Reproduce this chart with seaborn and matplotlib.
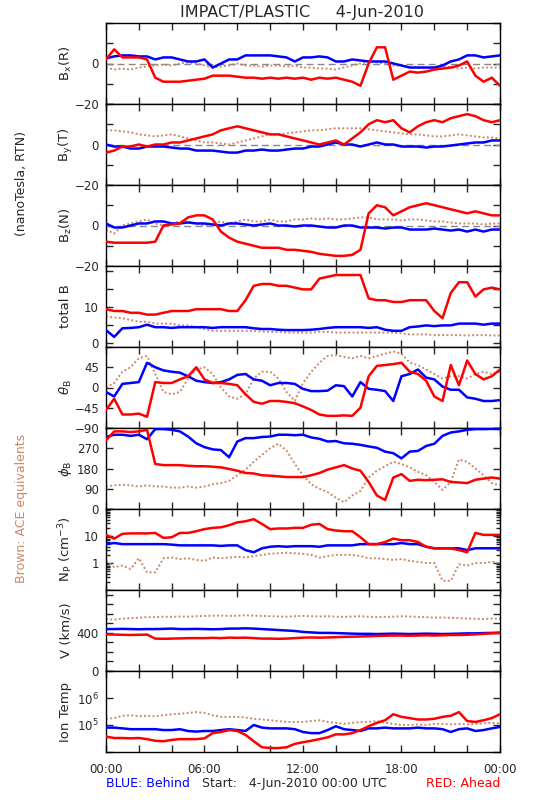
import numpy as np
import matplotlib
matplotlib.use("Agg")
import matplotlib.pyplot as plt
import seaborn as sns

# time grid (hours after 4-Jun-2010 00:00 UTC), one reading every 30 min
hours = np.arange(0, 24.5, 0.5)

BLUE = "#0000FF"
RED = "#FF0000"
BROWN = "#CC8866"

# B_x (R), nT
bx_blue = [2.5, 3.5, 4, 4, 3.5, 3.5, 2, 3, 3, 2, 1, 1,
           2, -2, 0, 2, 2, 4, 4, 4, 4, 3.5, 3, 1,
           3, 3, 3.5, 3, 1, 1, 2, 1.5, 1, 1, 1, 0,
           -1, -2, -2, -2, -2, -1, 1, 2, 4, 4, 3, 3.5, 4]
bx_red = [2, 7, 3, 3, 3, 2, -7, -9, -9, -9, -8.5, -8,
          -7.5, -6, -6, -6, -6.5, -7, -7, -7.5, -7, -7.5, -7, -7.5,
          -7, -8, -7, -7.5, -7, -8, -9, -11, 0, 8, 8, -8,
          -6, -4, -4.5, -4, -3, -2.5, -2, -1, 1, -6, -9, -7, -11]
bx_brown = [-2, -3, -2.5, -3, -2, -1.5, -1, -0.5, -1, 0, 0.5, 0,
            -1, -2, -1.5, -1, 0, -1, -1, -1.5, -1, -1, -1.5, -1,
            -2, -2, -2.5, -2.5, -3, -2, -1, 0, 1, 0.5, 0, -1,
            -1, -1.5, -2, -2, -2, -1.5, -2, -2.5, -2, -2.5, -2, -2, -2]

# B_y (T), nT
by_blue = [0, -1, -1, -2, -2, -1, -1, -1, -1.5, -2, -2, -3,
           -3, -3, -3.5, -4, -4, -3, -3, -2.5, -3, -3, -2.5, -2,
           -2, -1, -1, 0, 1, 0, 0, -1, 0, 1, 0, 0,
           -1, -1, -1, -1.5, -1, -1, -0.5, 0, 0.5, 1, 1, 2, 2]
by_red = [-4, -3, -1, -1, 0, -1, 0, 0, 1, 1, 2, 3,
          4, 5, 7, 8, 9, 8, 7, 6, 5, 5, 4, 3,
          2, 1, 0, 1, 2, 0, 3, 6, 10, 12, 11, 12,
          8, 6, 9, 11, 12, 11, 13, 14, 15, 14, 12, 11, 12]
by_brown = [7, 7, 6.5, 6, 5, 4.5, 4, 4.5, 5, 4, 3, 2,
            1, 1, 0.5, 0, 1, 2, 3, 4, 5, 5, 5.5, 6,
            6.5, 7, 7, 7.5, 8, 8, 8, 8, 7.5, 7, 6.5, 6,
            5.5, 5, 5, 4.5, 4, 4, 4.5, 5, 4.5, 4, 3.5, 3.5, 3]

# B_z (N), nT
bz_blue = [1, -1, -1, 0, 1, 1, 2, 2, 1, 1, 1.5, 1,
           1, 0.5, 0, 1, 1, 0.5, 0, 0.5, 1, 0, 0, -0.5,
           0, 0, -0.5, -1, -1, 0, 0, -1, -1, -1, -1.5, -1,
           -1, -2, -2, -2, -1.5, -2, -2.5, -2, -3, -2, -3, -2, -2]
bz_red = [-8, -8.5, -8.5, -8.5, -8.5, -8.5, -8, 0, 0.5, 1, 4, 5,
          5, 3, -3, -6, -8, -9, -10, -11, -11, -11, -12, -12,
          -12.5, -13, -14, -14.5, -15, -15, -14.5, -12, 6, 10, 9, 5,
          7, 9, 10, 11, 10, 9, 8, 7, 6, 7, 6, 5, 5]
bz_brown = [-2, -4, 0, 1, 2, 3, 1, 0, 1, 2, 2, 1,
            0, 1, 2, 1, 2, 3, 2, 2, 3, 2, 2, 3,
            3, 3.5, 3, 3.5, 3, 3, 3.5, 4, 4, 3, 3, 3,
            2.5, 3, 3, 2.5, 2, 2, 1.5, 1, 1, 1, 0.5, 1, 1]

# total B, nT
bt_blue = [3.7, 1.8, 4.2, 4.3, 4.5, 5.2, 4.5, 4.5, 4.3, 4.5, 4.5, 4.5,
           4.5, 4.3, 4.5, 4.5, 4.5, 4.5, 4.2, 4, 4, 3.8, 3.7, 3.7,
           3.7, 3.8, 4, 4.3, 4.5, 4.5, 4.5, 4.5, 4.3, 4.5, 3.8, 3.5,
           3.5, 4.5, 4.7, 5, 4.8, 5, 5, 5.5, 5.5, 5.5, 5.2, 5.5, 5.5]
bt_red = [9.5, 9, 9, 8.5, 8.5, 8, 8, 8.5, 9, 9, 9, 9.5,
          9.5, 9.5, 9.5, 9, 9, 12, 16, 16.5, 16.5, 16, 16, 15.5,
          15, 15, 18, 18.5, 19, 19, 19, 19, 12.5, 12, 12, 11.5,
          11.5, 12, 12, 12, 9, 7, 14, 17, 17, 13, 15, 15.5, 15]
bt_brown = [7.5, 7.2, 7, 6.5, 6, 6, 5.5, 5.5, 5.5, 5, 5, 4.5,
            4, 3.5, 3.5, 3.5, 3.5, 3.5, 3.5, 3.3, 3.2, 3.2, 3, 3,
            3, 3, 3.2, 3.2, 3, 3, 3, 3, 3, 3, 3, 3,
            2.8, 2.5, 2.5, 2.5, 2.3, 2.3, 2.3, 2.3, 2.2, 2.3, 2.3, 2.2, 2.2]

# theta_B, deg
th_blue = [-10, -20, 8, 10, 12, 55, 45, 38, 35, 33, 25, 15,
           12, 10, 12, 18, 28, 30, 18, 15, 5, 10, 10, 8,
           -3, -8, -8, -7, 5, 3, -20, 12, -3, -5, -8, -30,
           25, 30, 40, 22, 18, 2, -5, -5, -22, -25, -30, -30, -28]
th_red = [-50, -25, -60, -60, -58, -65, 12, 10, 10, 18, 25, 45,
          18, 10, 10, 8, 5, -15, -32, -36, -30, -30, -32, -35,
          -42, -50, -60, -63, -63, -62, -63, -45, 25, 48, 50, 52,
          55, 35, 30, 15, -20, -30, 50, 5, 60, 30, 18, 25, 40]
th_brown = [0, 10, 35, 45, 65, 70, 30, -10, -15, -10, 20, 40,
            45, 30, 0, -20, -25, -15, 20, 35, 35, 20, -10, -30,
            10, 35, 55, 70, 72, 68, 65, 70, 65, 70, 75, 80,
            75, 55, 50, 40, 30, 20, 25, 25, 20, 30, 35, 30, 35]

# phi_B, deg
ph_blue = [320, 330, 330, 325, 330, 310, 355, 355, 352, 345, 322, 292,
           275, 265, 262, 230, 300, 315, 315, 320, 322, 330, 330, 328,
           330, 318, 312, 300, 302, 292, 290, 285, 278, 272, 255, 248,
           225, 255, 258, 280, 290, 325, 340, 345, 352, 355, 355, 356, 355]
ph_red = [305, 345, 345, 342, 345, 352, 200, 195, 195, 195, 192, 190,
          190, 188, 185, 178, 170, 160, 158, 150, 148, 145, 142, 142,
          142, 150, 160, 175, 185, 195, 180, 170, 120, 60, 40, 140,
          155, 125, 130, 128, 130, 132, 120, 118, 115, 130, 135, 140, 135]
ph_brown = [100, 105, 108, 105, 100, 105, 100, 100, 95, 95, 100, 95,
            100, 110, 115, 125, 150, 175, 210, 240, 270, 290, 260, 200,
            150, 110, 90, 75, 50, 30, 60, 80, 140, 170, 190, 210,
            200, 185, 165, 150, 120, 85, 120, 220, 210, 180, 150, 115, 105]

# N_p, cm^-3
np_blue = [5, 5.5, 5, 5, 5, 5, 5, 5, 4.8, 4.5, 4.5, 4.5,
           4.5, 4.5, 4.3, 4.5, 4.5, 3, 2.5, 3.5, 4, 4.2, 4, 4.2,
           4.2, 4.2, 4, 4.5, 4.5, 4.5, 4.5, 5, 5, 5, 5, 5,
           5.5, 5, 5, 4, 3.5, 3.5, 3.5, 3.5, 3, 3.5, 3.5, 3.5, 3.5]
np_red = [11, 8, 12, 12.5, 12.5, 12.5, 13, 8.5, 9, 13, 13, 15,
          18, 20, 21, 25, 32, 35, 42, 28, 18, 19, 19, 20,
          20, 26, 28, 18, 16, 15, 15, 9, 5, 5, 6, 8,
          7, 7, 6, 4, 3.5, 3.5, 3.5, 3, 2.5, 13, 11, 11, 11]
np_brown = [1.2, 0.7, 0.8, 0.6, 1.5, 0.45, 0.45, 1.5, 1.6, 1.4, 1.5, 1.3,
            1.2, 1.6, 1.5, 1.6, 1.7, 1.6, 1.8, 2.0, 2.2, 2.3, 2.4, 2.3,
            2.2, 2.0, 1.6, 1.8, 2.0, 2.0, 2.0, 1.8, 1.5, 1.5, 1.4, 1.3,
            1.4, 1.2, 1.1, 1.0, 1.0, 0.22, 0.22, 0.9, 0.8, 1.0, 1.0, 1.1, 1.0]

# V, km/s
v_blue = [440, 440, 442, 440, 438, 440, 440, 442, 445, 440, 440, 442,
          440, 438, 440, 445, 445, 448, 445, 440, 435, 430, 425, 420,
          410, 405, 400, 400, 398, 395, 392, 390, 390, 388, 390, 392,
          390, 388, 390, 392, 390, 388, 390, 392, 395, 395, 398, 400, 402]
v_red = [385, 382, 380, 378, 380, 382, 340, 338, 340, 342, 345, 345,
         345, 348, 345, 350, 348, 350, 345, 340, 340, 338, 340, 345,
         350, 352, 350, 352, 355, 358, 360, 362, 365, 368, 370, 372,
         372, 370, 372, 375, 372, 375, 378, 378, 380, 385, 390, 395, 400]
v_brown = [545, 540, 548, 555, 560, 565, 565, 570, 568, 572, 570, 575,
           578, 580, 582, 578, 580, 585, 580, 578, 575, 572, 570, 575,
           578, 575, 572, 575, 570, 568, 572, 575, 570, 565, 568, 570,
           575, 572, 568, 565, 560, 562, 558, 555, 550, 548, 545, 550, 548]

# ion temperature, K
ti_blue = [8e4, 8e4, 7.5e4, 7e4, 7e4, 7e4, 7e4, 6.5e4, 6.5e4, 7e4, 6e4, 5.7e4,
           6e4, 6e4, 6.5e4, 7e4, 6.5e4, 6e4, 1e5, 8e4, 7.5e4, 7.5e4, 7.5e4, 7e4,
           5.5e4, 5e4, 5e4, 6.5e4, 9e4, 7e4, 6.5e4, 6e4, 7.5e4, 7.5e4, 8e4, 7.5e4,
           7.5e4, 7.5e4, 8e4, 7.5e4, 7.5e4, 7e4, 5.5e4, 7e4, 7.5e4, 6e4, 6.5e4, 7.5e4, 8.5e4]
ti_red = [3.7e4, 3.3e4, 3.3e4, 3.2e4, 3.3e4, 3e4, 2.6e4, 2.5e4, 2.8e4, 3e4, 3e4, 3e4,
          3.2e4, 5e4, 5.5e4, 6.5e4, 6e4, 4.3e4, 2.5e4, 1.5e4, 1.4e4, 1.4e4, 1.5e4, 2e4,
          2.3e4, 2.6e4, 3e4, 3.5e4, 4.5e4, 4.5e4, 5e4, 6.5e4, 9e4, 1.2e5, 1.5e5, 2.5e5,
          2e5, 1.8e5, 1.6e5, 1.6e5, 1.7e5, 2e5, 2.2e5, 3e5, 1.4e5, 1.3e5, 1.5e5, 1.8e5, 2.5e5]
ti_brown = [1.7e5, 1.8e5, 2.2e5, 2.3e5, 2.1e5, 2.2e5, 2.1e5, 2.3e5, 2.5e5, 2.6e5, 2.8e5, 3e5,
            2.8e5, 2.3e5, 2e5, 2e5, 2e5, 1.9e5, 1.7e5, 1.6e5, 1.5e5, 1.4e5, 1.3e5, 1.3e5,
            1.3e5, 1.4e5, 1.5e5, 1.3e5, 1.2e5, 1.1e5, 1.2e5, 1.3e5, 1.3e5, 1.4e5, 1.2e5, 1.1e5,
            1e5, 1e5, 1.05e5, 1e5, 1.1e5, 1.1e5, 1.05e5, 1.1e5, 1.05e5, 1.1e5, 1.15e5, 1.2e5, 1.15e5]

panel_labels = [r"B$_\mathregular{x}$(R)", r"B$_\mathregular{y}$(T)", r"B$_\mathregular{z}$(N)",
                "total B", r"$\theta_\mathregular{B}$", r"$\phi_\mathregular{B}$",
                r"N$_\mathregular{P}$ (cm$^\mathregular{-3}$)", "V (km/s)", "Ion Temp"]
time_labels = ["00:00", "06:00", "12:00", "18:00", "00:00"]

sns.set_style("ticks")
plt.rcParams["font.family"] = ["DejaVu Sans"]
plt.rcParams["axes.linewidth"] = 1.0

fig, axes = plt.subplots(9, 1, figsize=(5.5, 8), dpi=100, sharex=True)
fig.subplots_adjust(left=0.1927, right=0.9091, top=0.97125, bottom=0.06, hspace=0)

series = [(bx_blue, bx_red, bx_brown), (by_blue, by_red, by_brown), (bz_blue, bz_red, bz_brown),
          (bt_blue, bt_red, bt_brown), (th_blue, th_red, th_brown), (ph_blue, ph_red, ph_brown),
          (np_blue, np_red, np_brown), (v_blue, v_red, v_brown), (ti_blue, ti_red, ti_brown)]

for i, (ax, (blue, red, brown)) in enumerate(zip(axes, series)):
    if i in (6, 8):
        ax.set_yscale("log")
    if i < 3:
        ax.axhline(0, color="#888888", lw=1, dashes=(5, 3), zorder=1)
    # ACE values are drawn as a dotted trace, like the scattered dots of the original
    sns.lineplot(x=hours, y=brown, ax=ax, color=BROWN, lw=1.4, dashes=False,
                 linestyle=(0, (1, 1.2)), zorder=2)
    sns.lineplot(x=hours, y=blue, ax=ax, color=BLUE, lw=1.8, zorder=3)
    sns.lineplot(x=hours, y=red, ax=ax, color=RED, lw=1.8, zorder=4)
    ax.set_xlabel("")
    ax.set_ylabel("")
    ax.text(-0.1015, 0.5, panel_labels[i], transform=ax.transAxes, rotation=90,
            ha="center", va="center", fontsize=9.5)
    ax.tick_params(which="both", direction="in", top=True, right=True,
                   labelsize=8.5, width=1, pad=5)
    ax.tick_params(which="major", length=5)
    ax.tick_params(which="minor", length=3)
    for s in ax.spines.values():
        s.set_color("black")

# field components
for ax in axes[:3]:
    ax.set_ylim(-20, 20)
    ax.set_yticks([-20, -10, 0, 10, 20])
    ax.set_yticklabels(["\u221220", "", "0", "", ""])

axes[3].set_ylim(-1, 21.5)
axes[3].set_yticks([0, 5, 10, 15, 20])
axes[3].set_yticklabels(["0", "", "10", "", ""])

axes[4].set_ylim(-90, 90)
axes[4].set_yticks([-90, -45, 0, 45, 90])
axes[4].set_yticklabels(["\u221290", "\u221245", "0", "45", ""])

axes[5].set_ylim(0, 360)
axes[5].set_yticks([0, 90, 180, 270, 360])
axes[5].set_yticklabels(["0", "90", "180", "270", ""])

axes[6].set_ylim(0.1, 100)
axes[6].set_yticks([0.1, 1, 10, 100])
axes[6].set_yticklabels(["", "1", "10", ""])
axes[6].yaxis.set_minor_locator(matplotlib.ticker.LogLocator(base=10, subs=np.arange(2, 10)))
axes[6].yaxis.set_minor_formatter(matplotlib.ticker.NullFormatter())

axes[7].set_ylim(0, 850)
axes[7].set_yticks([0, 100, 200, 300, 400, 500, 600, 700, 800])
axes[7].set_yticklabels(["0", "", "", "", "400", "", "", "", ""])

axes[8].set_ylim(1e4, 1e7)
axes[8].set_yticks([1e4, 1e5, 1e6, 1e7])
axes[8].set_yticklabels(["", r"10$^\mathregular{5}$", r"10$^\mathregular{6}$", ""])
axes[8].yaxis.set_minor_locator(matplotlib.ticker.NullLocator())

axes[-1].set_xlim(0, 24)
axes[-1].set_xticks(np.arange(0, 25, 2))
axes[-1].set_xticklabels([time_labels[k // 6] if k % 6 == 0 else "" for k in range(0, 25, 2)],
                         fontsize=8.5)
axes[-1].tick_params(axis="x", pad=8)

fig.text(0.549, 0.985, "IMPACT/PLASTIC     4-Jun-2010", ha="center", va="center", fontsize=11.5)
fig.text(0.04, 0.77, "(nanoTesla, RTN)", rotation=90, ha="center", va="center", fontsize=9)
fig.text(0.04, 0.364, "Brown: ACE equivalents", rotation=90, ha="center", va="center",
         fontsize=9, color=BROWN)
fig.text(0.1927, 0.021, "BLUE: Behind", ha="left", va="center", fontsize=9, color=BLUE)
fig.text(0.367, 0.021, "Start:   4-Jun-2010 00:00 UTC", ha="left", va="center", fontsize=9)
fig.text(0.9091, 0.021, "RED: Ahead", ha="right", va="center", fontsize=9, color=RED)

fig.savefig("out.png", dpi=100)
